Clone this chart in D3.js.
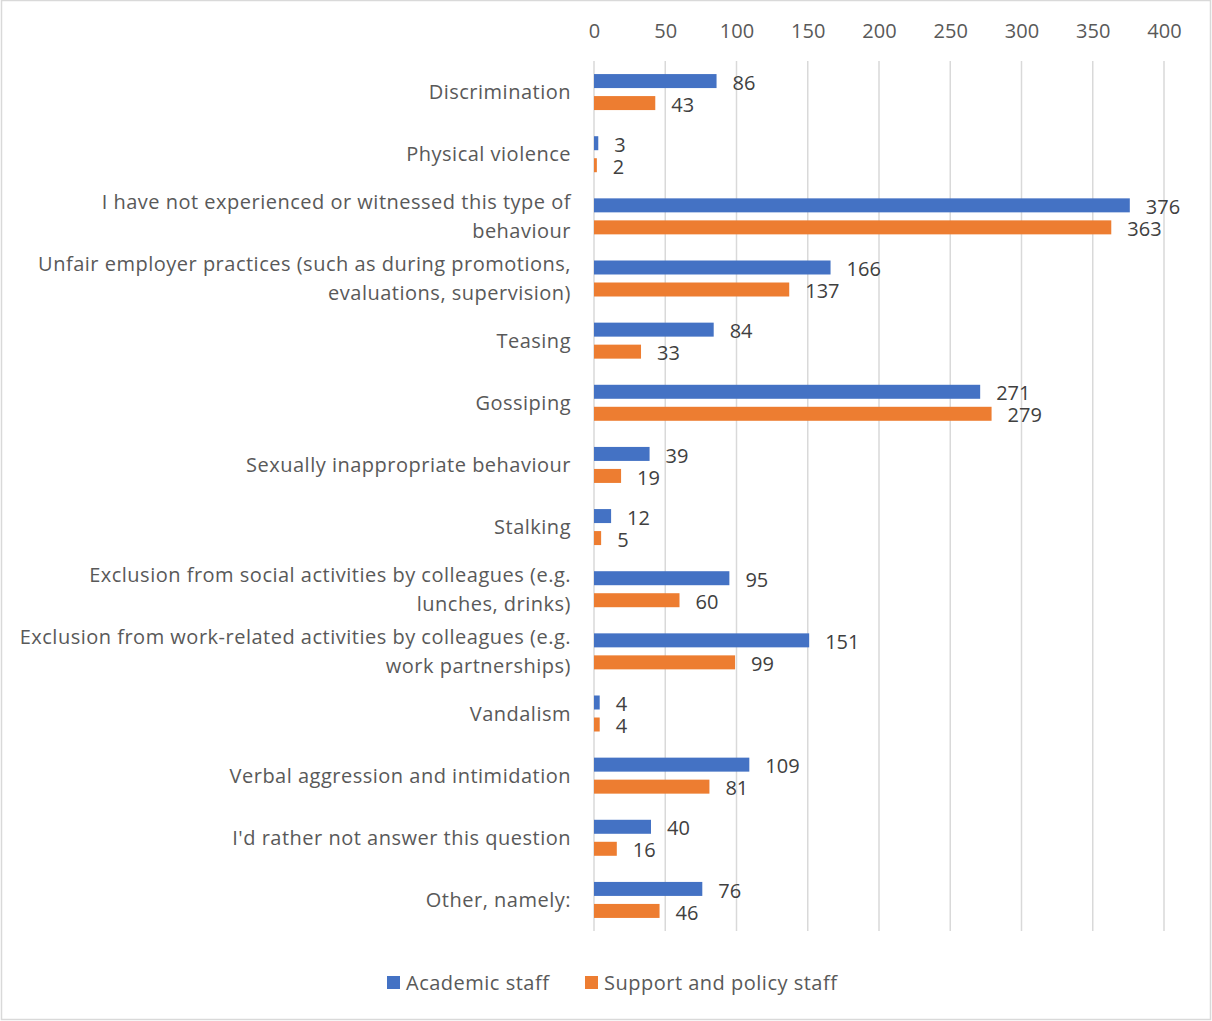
<!DOCTYPE html>
<html>
<head>
<meta charset="utf-8">
<script src="https://cdn.jsdelivr.net/npm/d3@7"></script>
<style>
  html, body { margin: 0; padding: 0; background: #fff; }
  svg { display: block; font-family: "Open Sans", Lato, sans-serif; }
</style>
</head>
<body>
<svg id="chart" width="1212" height="1021"></svg>
<script>
// Survey categories (line breaks mark where long labels wrap)
const categories = [
  "Discrimination",
  "Physical violence",
  "I have not experienced or witnessed this type of\nbehaviour",
  "Unfair employer practices (such as during promotions,\nevaluations, supervision)",
  "Teasing",
  "Gossiping",
  "Sexually inappropriate behaviour",
  "Stalking",
  "Exclusion from social activities by colleagues (e.g.\nlunches, drinks)",
  "Exclusion from work-related activities by colleagues (e.g.\nwork partnerships)",
  "Vandalism",
  "Verbal aggression and intimidation",
  "I'd rather not answer this question",
  "Other, namely:"
];
const academicStaff = [86, 3, 376, 166, 84, 271, 39, 12, 95, 151, 4, 109, 40, 76];
const supportStaff  = [43, 2, 363, 137, 33, 279, 19, 5, 60, 99, 4, 81, 16, 46];
const seriesNames = ["Academic staff", "Support and policy staff"];
const seriesColors = ["#4472C4", "#ED7D31"];
const xTicks = [0, 50, 100, 150, 200, 250, 300, 350, 400];

const svg = d3.select("#chart");
const W = 1212, H = 1021;
const FONT = 20;
const SPACING = 0.5;

// outer frame
svg.append("rect")
  .attr("x", 1.5).attr("y", 0.5)
  .attr("width", W - 3).attr("height", H - 2)
  .attr("fill", "#fff").attr("stroke", "#d9d9d9").attr("stroke-width", 1.5);

const plot = { left: 594, right: 1164, top: 61, bottom: 931 };

const x = d3.scaleLinear().domain([0, 400]).range([plot.left, plot.right]);
const y = d3.scaleBand().domain(categories).range([plot.top, plot.bottom]).padding(0);
const ySub = d3.scaleBand().domain(seriesNames).range([0, y.bandwidth()])
  .paddingInner(0.364).paddingOuter(0.594);

// vertical gridlines
svg.append("g")
  .selectAll("line").data(xTicks).join("line")
  .attr("x1", d => x(d)).attr("x2", d => x(d))
  .attr("y1", plot.top).attr("y2", plot.bottom)
  .attr("stroke", "#d9d9d9").attr("stroke-width", 1.5);

// top axis tick labels
const xAxis = d3.axisTop(x).tickValues(xTicks).tickSize(0).tickPadding(0);
const gx = svg.append("g").attr("transform", `translate(0,${38})`).call(xAxis);
gx.select(".domain").remove();
gx.selectAll("text")
  .attr("font-family", "'Open Sans', Lato, sans-serif")
  .attr("font-size", FONT).attr("fill", "#595959");

// category labels
const labelG = svg.append("g");
categories.forEach(c => {
  const lines = c.split("\n");
  const cy = y(c) + y.bandwidth() / 2;
  const lh = 29;
  const t = labelG.append("text")
    .attr("text-anchor", "end")
    .attr("font-size", FONT)
    .attr("letter-spacing", SPACING)
    .attr("fill", "#595959");
  lines.forEach((ln, i) => {
    t.append("tspan")
      .attr("x", 571)
      .attr("y", cy + (i - (lines.length - 1) / 2) * lh)
      .attr("dy", "0.35em")
      .text(ln);
  });
});

// bars and value labels
const rows = categories.map((c, i) => ({ c, vals: [academicStaff[i], supportStaff[i]] }));
const groups = svg.append("g").selectAll("g").data(rows).join("g")
  .attr("transform", d => `translate(0,${y(d.c)})`);

groups.selectAll("rect")
  .data(d => d.vals.map((v, k) => ({ v, k })))
  .join("rect")
  .attr("x", x(0))
  .attr("y", d => ySub(seriesNames[d.k]))
  .attr("width", d => x(d.v) - x(0))
  .attr("height", ySub.bandwidth())
  .attr("fill", d => seriesColors[d.k]);

groups.selectAll("text")
  .data(d => d.vals.map((v, k) => ({ v, k })))
  .join("text")
  .attr("x", d => x(d.v) + 16)
  .attr("y", d => ySub(seriesNames[d.k]) + ySub.bandwidth() / 2 + 1.5)
  .attr("dy", "0.36em")
  .attr("font-size", FONT)
  .attr("fill", "#404040")
  .text(d => d.v);

// legend
const legend = svg.append("g");
const legendItems = [
  { name: seriesNames[0], color: seriesColors[0], x: 387 },
  { name: seriesNames[1], color: seriesColors[1], x: 585 }
];
legendItems.forEach(it => {
  legend.append("rect")
    .attr("x", it.x).attr("y", 976).attr("width", 13).attr("height", 13)
    .attr("fill", it.color);
  legend.append("text")
    .attr("x", it.x + 19).attr("y", 983).attr("dy", "0.35em")
    .attr("font-size", FONT).attr("letter-spacing", SPACING).attr("fill", "#595959")
    .text(it.name);
});
</script>
</body>
</html>
